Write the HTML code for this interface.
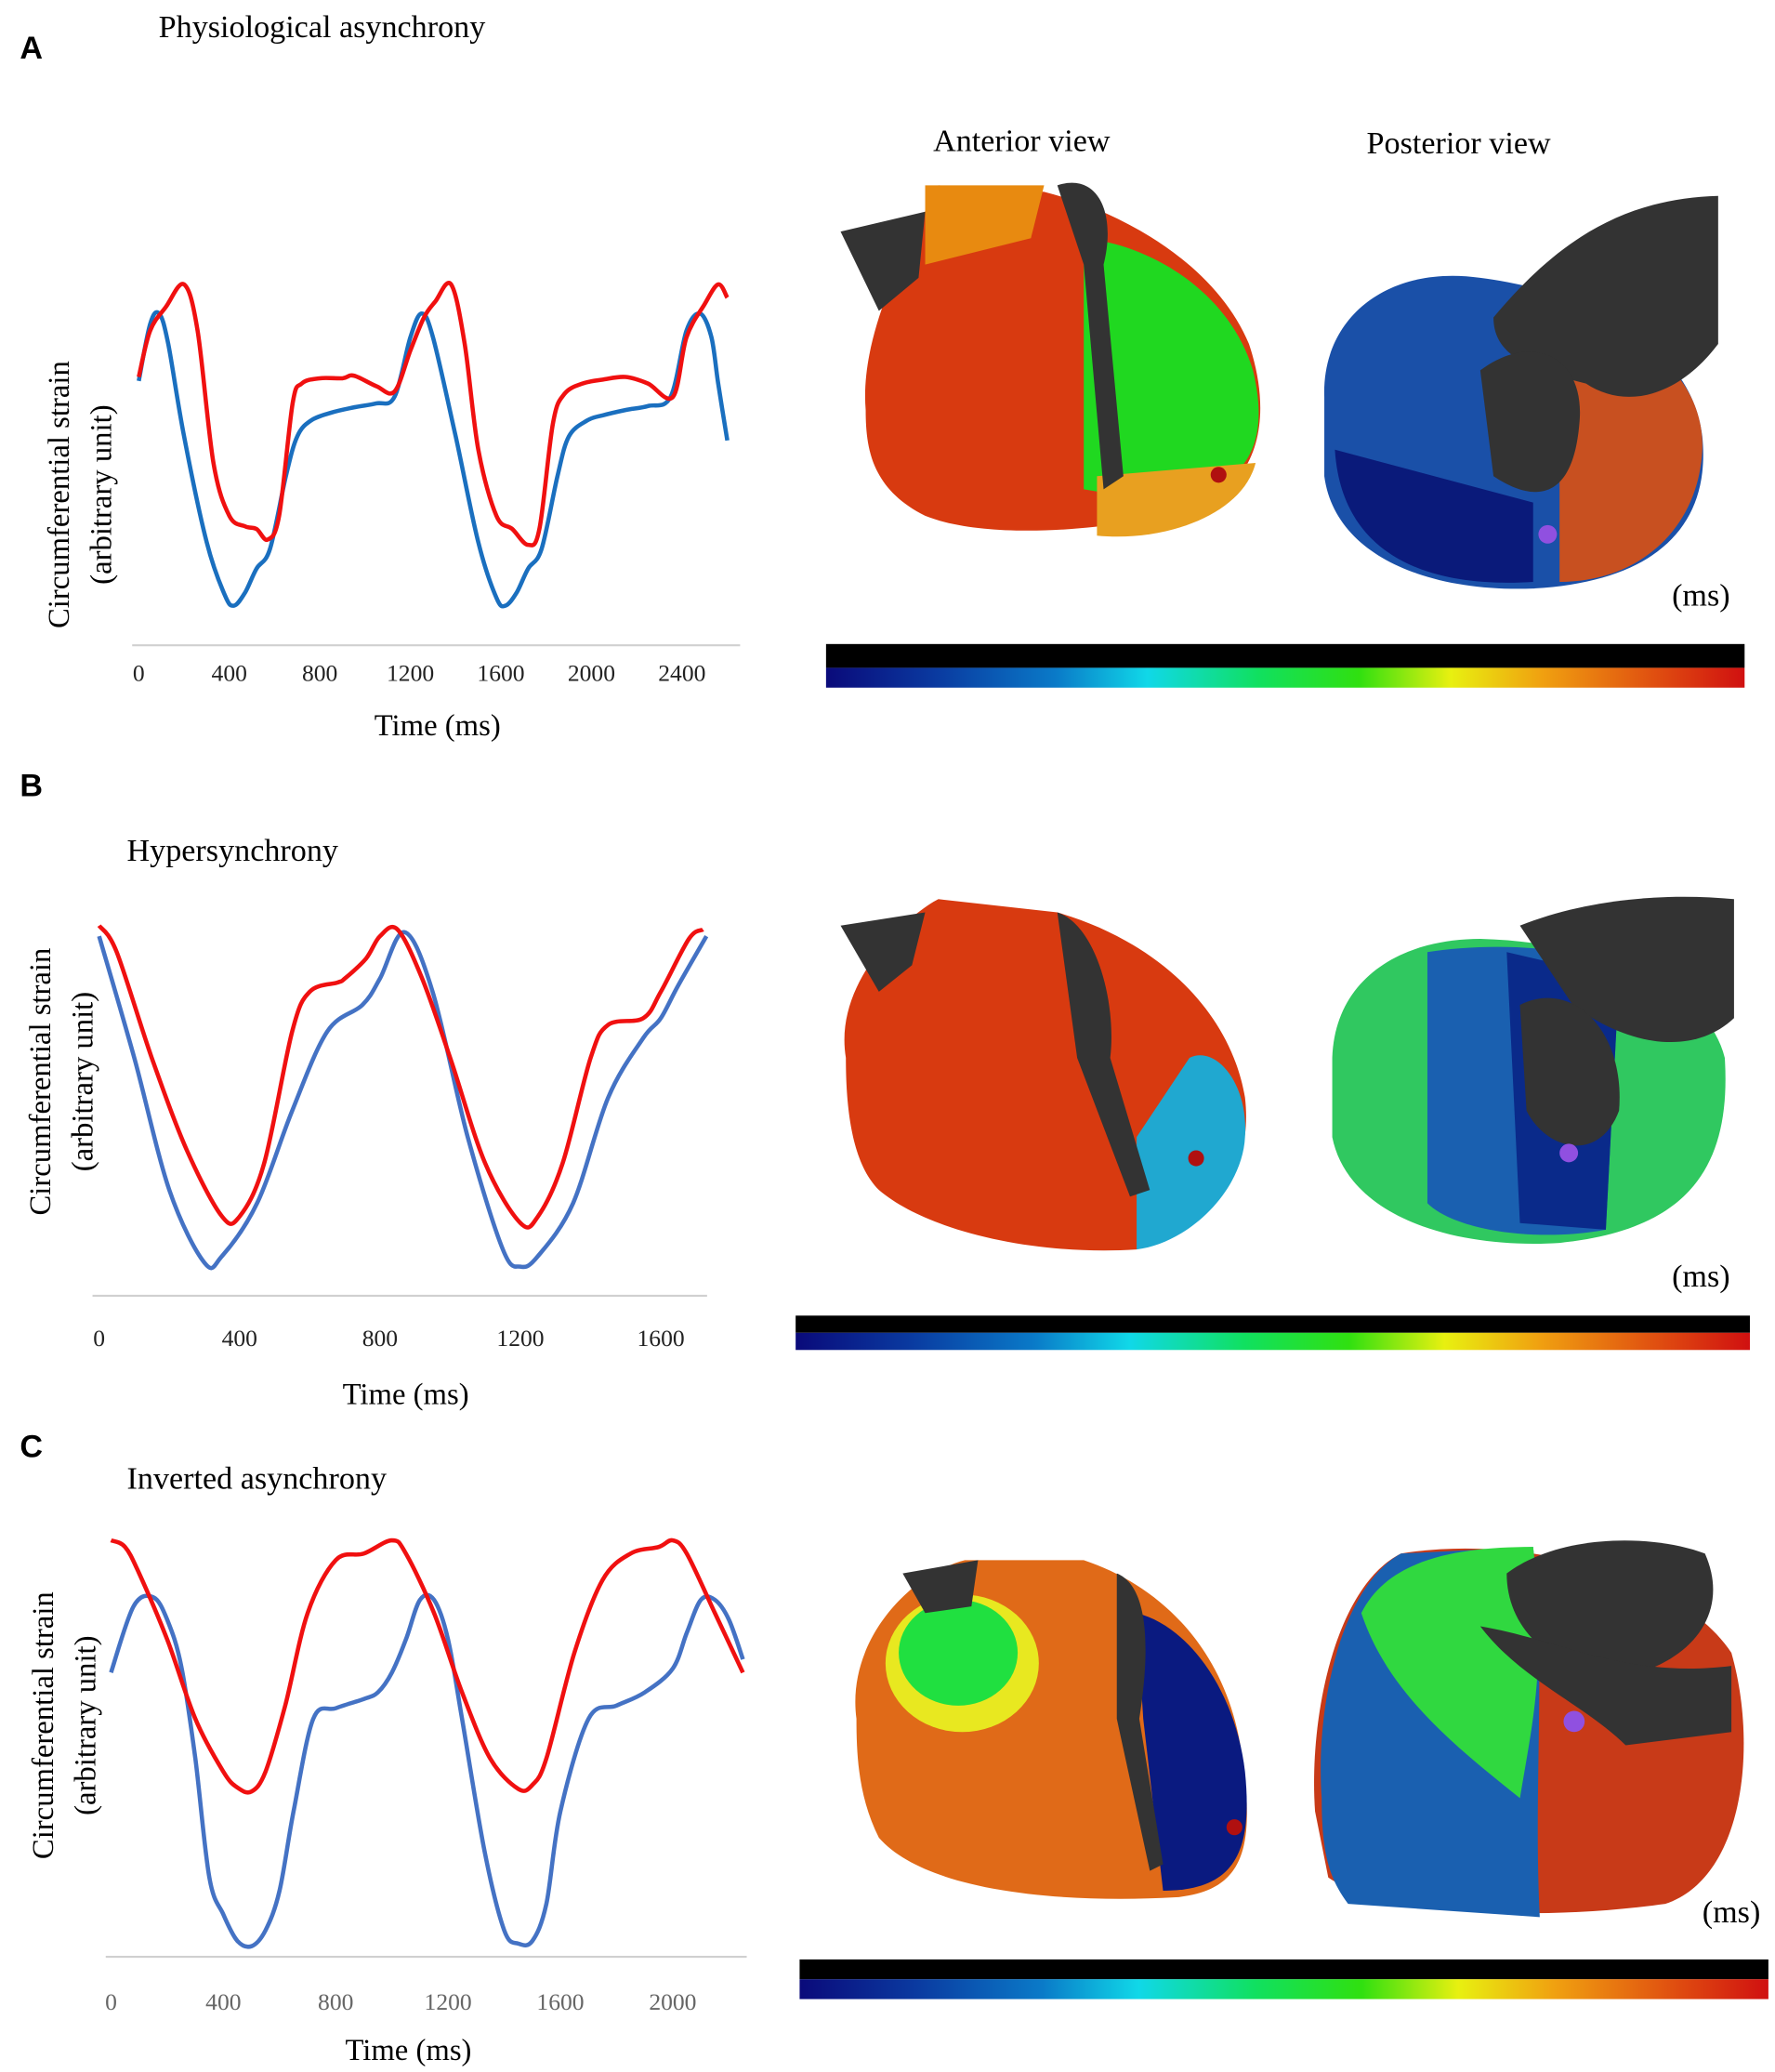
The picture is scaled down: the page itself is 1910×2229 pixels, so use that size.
<!DOCTYPE html>
<html><head><meta charset="utf-8"><style>
body{margin:0;background:#fff}
svg{display:block}
text{font-family:"Liberation Serif",serif}
</style></head><body>
<svg id="fig" width="1910" height="2229" viewBox="0 0 1343 1567" xmlns="http://www.w3.org/2000/svg">
<defs>
<linearGradient id="cb" x1="0" x2="1" y1="0" y2="0">
<stop offset="0" stop-color="#0a0a7a"/><stop offset="0.12" stop-color="#0a3aa0"/><stop offset="0.25" stop-color="#0a7ac8"/><stop offset="0.35" stop-color="#10d8e8"/><stop offset="0.47" stop-color="#10e060"/><stop offset="0.58" stop-color="#30e010"/><stop offset="0.68" stop-color="#e8f010"/><stop offset="0.78" stop-color="#f0a010"/><stop offset="0.9" stop-color="#e05010"/><stop offset="1" stop-color="#d01010"/>
</linearGradient>
</defs>
<g id="labels" font-size="24">
<text x="15" y="44" font-weight="bold" font-size="24" style="font-family:'Liberation Sans',sans-serif">A</text>
<text x="15" y="602" font-weight="bold" style="font-family:'Liberation Sans',sans-serif">B</text>
<text x="15" y="1102" font-weight="bold" style="font-family:'Liberation Sans',sans-serif">C</text>
<text x="120" y="28">Physiological asynchrony</text>
<text x="96" y="651">Hypersynchrony</text>
<text x="96" y="1126">Inverted asynchrony</text>
<text x="706" y="114">Anterior view</text>
<text x="1034" y="116">Posterior view</text>
<text x="1265" y="458">(ms)</text>
<text x="1265" y="973">(ms)</text>
<text x="1288" y="1454">(ms)</text>
</g>
<g id="charts"></g>
<g id="hearts">
<path d="M655 310 C650 250 690 180 710 140 L790 145 C850 160 920 200 945 260 C965 320 950 370 900 385 C850 400 750 410 700 390 C660 370 655 340 655 310Z" fill="#d83a10"/>
<path d="M820 180 C870 185 930 220 948 280 C960 330 950 370 880 380 L820 370Z" fill="#20d820"/>
<path d="M700 140 L790 140 L780 180 L700 200Z" fill="#e88a10"/>
<path d="M830 360 L950 350 C940 390 880 410 830 405Z" fill="#e8a020"/>
<path d="M800 140 C830 130 845 160 835 200 L850 360 L835 370 L820 200Z" fill="#333"/>
<path d="M636 175 L700 160 L695 210 L665 235Z" fill="#333"/>
<circle cx="922" cy="359" r="6" fill="#b01010"/>
<path d="M1002 300 C1000 240 1050 200 1120 210 C1200 220 1280 260 1288 330 C1295 400 1250 440 1160 445 C1080 448 1010 420 1002 360Z" fill="#1a50a8"/>
<path d="M1010 340 L1160 380 L1160 440 C1080 445 1015 420 1010 340Z" fill="#0a1a7a"/>
<path d="M1180 250 C1230 240 1290 280 1288 340 C1285 400 1240 440 1180 440Z" fill="#c85020"/>
<path d="M1130 240 C1180 180 1230 150 1300 148 L1300 260 C1270 300 1230 310 1200 290 C1160 280 1130 270 1130 240Z" fill="#333"/>
<path d="M1120 280 C1160 250 1200 270 1195 320 C1190 380 1160 380 1130 360Z" fill="#333"/>
<circle cx="1171" cy="404" r="7" fill="#9050e0"/>
<path d="M640 800 C630 740 690 690 710 680 L800 690 C870 710 930 760 942 830 C950 900 900 930 860 945 C780 950 700 930 665 900 C645 880 640 840 640 800Z" fill="#d83a10"/>
<path d="M860 860 L900 800 C920 790 945 820 942 860 C940 900 900 940 860 945Z" fill="#20a8d0"/>
<path d="M800 690 C830 700 845 760 840 800 L870 900 L855 905 L815 800Z" fill="#333"/>
<path d="M636 700 L700 690 L690 730 L665 750Z" fill="#333"/>
<circle cx="905" cy="876" r="6" fill="#b01010"/>
<path d="M1008 800 C1010 740 1060 710 1120 710 C1200 712 1290 740 1305 800 C1310 880 1280 930 1180 940 C1100 945 1020 920 1008 860Z" fill="#30c860"/>
<path d="M1080 720 C1130 712 1210 715 1225 740 L1215 930 C1160 940 1100 930 1080 910Z" fill="#1a60b0"/>
<path d="M1140 720 L1225 740 L1215 930 L1150 925Z" fill="#0a2a8a"/>
<path d="M1150 700 C1200 680 1260 675 1312 680 L1312 770 C1280 800 1230 790 1190 760Z" fill="#333"/>
<path d="M1150 760 C1190 740 1230 780 1225 840 C1210 880 1170 870 1155 840Z" fill="#333"/>
<circle cx="1187" cy="872" r="7" fill="#9050e0"/>
<path d="M648 1300 C640 1240 690 1190 730 1180 L820 1180 C880 1200 930 1250 940 1330 C950 1400 940 1430 890 1435 C800 1440 700 1430 665 1390 C650 1360 648 1330 648 1300Z" fill="#e06a18"/>
<ellipse cx="728" cy="1258" rx="58" ry="52" fill="#e8e820"/>
<ellipse cx="725" cy="1250" rx="45" ry="40" fill="#20e040"/>
<path d="M860 1220 C900 1230 935 1280 942 1340 C948 1400 935 1430 880 1430 L865 1300Z" fill="#0a1a80"/>
<path d="M845 1190 C870 1200 870 1250 862 1300 L880 1410 L870 1415 L845 1300Z" fill="#333"/>
<path d="M683 1190 L740 1180 L735 1215 L700 1220Z" fill="#333"/>
<circle cx="934" cy="1382" r="6" fill="#b01010"/>
<path d="M995 1370 C990 1300 1010 1200 1060 1175 C1150 1160 1270 1190 1310 1250 C1330 1320 1320 1420 1260 1440 C1150 1455 1040 1445 1005 1420Z" fill="#c83a18"/>
<path d="M1000 1360 C995 1290 1015 1200 1060 1175 L1160 1170 C1170 1260 1160 1350 1165 1450 L1020 1440 C1005 1420 1000 1400 1000 1360Z" fill="#1a60b0"/>
<path d="M1030 1220 C1050 1180 1100 1170 1160 1170 C1170 1260 1160 1300 1150 1360 C1100 1320 1050 1280 1030 1220Z" fill="#30d840"/>
<path d="M1140 1190 C1180 1160 1250 1160 1290 1175 C1310 1220 1280 1260 1220 1270 C1170 1260 1140 1230 1140 1190Z" fill="#333"/>
<path d="M1120 1230 C1180 1240 1230 1270 1310 1260 L1310 1310 L1230 1320 C1200 1290 1150 1270 1120 1230Z" fill="#333"/>
<circle cx="1191" cy="1302" r="8" fill="#9050e0"/>
</g>
<g id="colorbars">
<rect x="625" y="487" width="695" height="18" fill="#000"/>
<rect x="625" y="505" width="695" height="15" fill="url(#cb)"/>
<rect x="602" y="995" width="722" height="13" fill="#000"/>
<rect x="602" y="1008" width="722" height="13" fill="url(#cb)"/>
<rect x="605" y="1482" width="733" height="15" fill="#000"/>
<rect x="605" y="1497" width="733" height="15" fill="url(#cb)"/>
</g>
</svg>
<script>
const aBlueT=[0,50,90,130,200,300,380,420,470,520,580,650,700,760,850,950,1050,1130,1200,1250,1300,1400,1500,1580,1620,1670,1720,1780,1850,1900,1980,2050,2150,2250,2350,2420,2480,2530,2560,2600];
const aBlueV=[200,243,251,228,158,78,38,30,40,58,73,128,158,170,176,180,183,188,233,251,233,158,78,36,30,40,58,73,128,158,170,174,178,181,188,238,251,233,198,155];
const aRedT=[0,50,120,200,260,330,400,470,520,570,620,680,720,800,900,950,1050,1130,1200,1260,1310,1380,1440,1500,1580,1650,1720,1770,1830,1880,1960,2050,2150,2250,2360,2420,2500,2560,2600];
const aRedV=[203,238,256,273,238,138,98,90,88,80,98,183,198,202,202,204,196,192,223,248,260,273,228,148,98,88,76,88,168,190,198,201,203,198,188,233,258,273,263];
const aTicks=[0,400,800,1200,1600,2000,2400];
const bBlueT=[0,100,200,300,350,450,550,650,750,800,870,950,1050,1150,1200,1250,1350,1450,1550,1600,1650,1730];
const bBlueV=[272,180,80,25,30,70,140,200,220,240,275,230,120,35,22,30,70,150,195,210,235,272];
const bRedT=[0,50,150,250,350,400,470,550,600,680,700,760,800,850,920,1000,1100,1200,1250,1320,1400,1450,1550,1600,1680,1720];
const bRedV=[280,260,180,110,60,60,100,200,230,237,240,255,272,277,240,180,100,55,60,100,180,205,210,230,270,277];
const bTicks=[0,400,800,1200,1600];
const cBlueT=[0,80,150,200,250,300,350,400,450,500,550,600,650,720,800,900,950,1000,1050,1100,1150,1200,1250,1330,1400,1450,1500,1550,1600,1700,1800,1900,2000,2050,2100,2150,2200,2250];
const cBlueV=[215,265,272,255,220,150,60,32,12,8,20,50,110,180,188,195,200,215,240,270,270,240,180,80,20,10,12,40,110,180,190,200,218,245,270,270,255,225];
const cRedT=[0,50,100,200,300,400,450,500,550,620,700,800,900,1000,1050,1150,1250,1350,1450,1500,1550,1650,1750,1850,1950,2000,2050,2150,2250];
const cRedV=[315,310,290,240,180,140,128,125,140,190,260,300,305,315,305,260,200,150,127,130,150,230,285,305,310,315,305,260,215];
const cTicks=[0,400,800,1200,1600,2000];

const NS='http://www.w3.org/2000/svg';
const g=document.getElementById('charts');
function mk(tag,attrs){const e=document.createElementNS(NS,tag);for(const k in attrs)e.setAttribute(k,attrs[k]);g.appendChild(e);return e;}
function smooth(pts){
  let d='M'+pts[0][0].toFixed(1)+' '+pts[0][1].toFixed(1);
  for(let i=0;i<pts.length-1;i++){
    const p0=pts[Math.max(0,i-1)],p1=pts[i],p2=pts[i+1],p3=pts[Math.min(pts.length-1,i+2)];
    const c1=[p1[0]+(p2[0]-p0[0])/6,p1[1]+(p2[1]-p0[1])/6];
    const c2=[p2[0]-(p3[0]-p1[0])/6,p2[1]-(p3[1]-p1[1])/6];
    d+=` C${c1[0].toFixed(1)} ${c1[1].toFixed(1)} ${c2[0].toFixed(1)} ${c2[1].toFixed(1)} ${p2[0].toFixed(1)} ${p2[1].toFixed(1)}`;
  }
  return d;
}
function panel(p,x0,xPer400,base,axisX1,axisX2,ticks,tickY,series,ylab1,ylab2,yl,xlabY,xlabX,tickColor){
  const sx=t=>x0+t/400*xPer400, sy=v=>base-v;
  const ax=mk('line',{x1:axisX1,x2:axisX2,y1:base,y2:base,stroke:'#d0d0d0','stroke-width':1.5});
  
  
  ticks.forEach(t=>{const e=mk('text',{x:sx(t),y:tickY,'text-anchor':'middle','font-size':18,fill:tickColor});e.textContent=t;
    
    });
  series.forEach(s=>{const pts=s.t.map((t,i)=>[sx(t),sy(s.v[i])]);
    const e=mk('path',{d:smooth(pts),fill:'none',stroke:s.c,'stroke-width':3.2,'stroke-linejoin':'round'});
    
    });
  const xl=mk('text',{x:xlabX,y:xlabY,'text-anchor':'middle','font-size':23});xl.textContent='Time (ms)';
  
  
  const y1=mk('text',{transform:`translate(${yl[0]},${yl[2]}) rotate(-90)`,'text-anchor':'middle','font-size':23});y1.textContent=ylab1;
  
  
  const y2=mk('text',{transform:`translate(${yl[1]},${yl[2]}) rotate(-90)`,'text-anchor':'middle','font-size':23});y2.textContent=ylab2;
  
  
}
panel('panel-a',105,68.5,488,100,560,aTicks,515,[{t:aBlueT,v:aBlueV,c:'#1a6fbf',n:'blue'},{t:aRedT,v:aRedV,c:'#f01010',n:'red'}],'Circumferential strain','(arbitrary unit)',[52,84,374],556,331,'#222');
panel('panel-b',75,106.25,980,70,535,bTicks,1018,[{t:bBlueT,v:bBlueV,c:'#4472c4',n:'blue'},{t:bRedT,v:bRedV,c:'#f01010',n:'red'}],'Circumferential strain','(arbitrary unit)',[38,70,818],1062,307,'#222');
panel('panel-c',84,85,1480,80,565,cTicks,1520,[{t:cBlueT,v:cBlueV,c:'#4472c4',n:'blue'},{t:cRedT,v:cRedV,c:'#f01010',n:'red'}],'Circumferential strain','(arbitrary unit)',[40,72,1305],1558,309,'#666');
</script>
</body></html>
